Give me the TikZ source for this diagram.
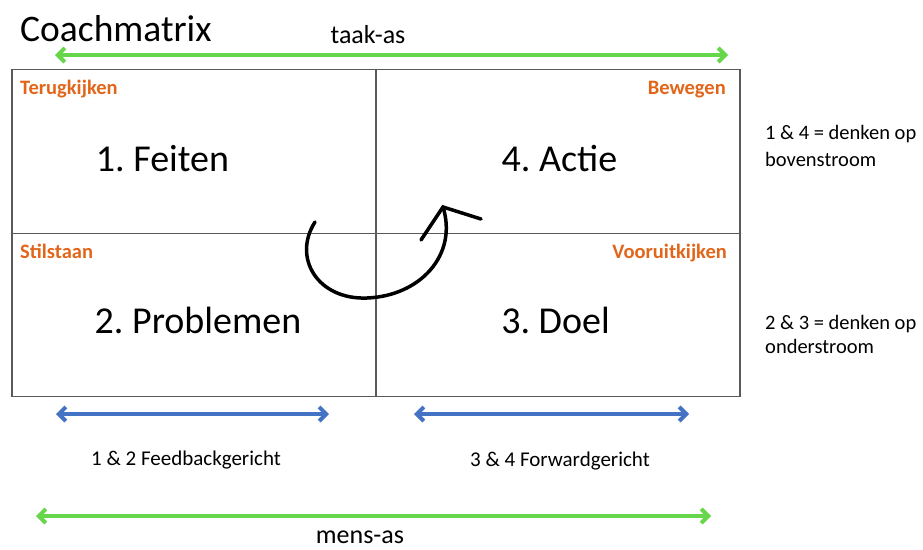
\documentclass[tikz,border=0pt]{standalone}
\usepackage{fontspec}
\setmainfont{Carlito}
\usetikzlibrary{arrows.meta}
\definecolor{lgreen}{HTML}{66D64A}
\definecolor{lblue}{HTML}{4472C4}
\definecolor{lorange}{HTML}{E2661A}
\definecolor{gridgray}{HTML}{5A5A5A}
\frenchspacing
\begin{document}
\begin{tikzpicture}[x=1pt,y=-1pt,
  cell/.style={draw=gridgray,line width=1.2pt,minimum width=364pt,minimum height=163.5pt,inner sep=0pt,outer sep=0pt},
  big/.style={font=\fontsize{38}{45}\selectfont,anchor=base,inner sep=0pt},
  axislbl/.style={font=\fontsize{26}{31}\selectfont,anchor=base,inner sep=0pt},
  tag/.style={font=\fontsize{20.5}{24}\selectfont\bfseries,text=lorange,inner sep=0pt},
  side/.style={font=\fontsize{20.5}{25}\selectfont,anchor=base west,inner sep=0pt},
  small/.style={font=\fontsize{21}{25}\selectfont,anchor=base,inner sep=0pt},
  greenarrow/.style={draw=lgreen,line width=4pt,{Straight Barb[length=7pt,width=14pt]}-{Straight Barb[length=7pt,width=14pt]}},
  bluearrow/.style={draw=lblue,line width=4pt,{Straight Barb[length=7pt,width=14pt]}-{Straight Barb[length=7pt,width=14pt]}},
  cyclearrow/.style={draw=black,line width=3.5pt,line cap=round}
]
\useasboundingbox (0,0) rectangle (923,549);

% grid cells
\node[cell] (q1) at (194,151.5) {};
\node[cell] (q4) at (558,151.5) {};
\node[cell] (q2) at (194,315) {};
\node[cell] (q3) at (558,315) {};

% title and axis labels
\node[font=\fontsize{37.5}{44}\selectfont,anchor=base west,inner sep=0pt] (title) at (20,41) {Coachmatrix};
\node[axislbl] (taak) at (368,43) {taak-as};
\node[axislbl] (mens) at (360,543) {mens-as};

% quadrant texts
\node[big] (feiten) at (162.5,171) {1. Feiten};
\node[big] (actie) at (559.5,171) {4. Actie};
\node[big] (problemen) at (198,333) {2. Problemen};
\node[big] (doel) at (555.5,333) {3. Doel};

% orange tags
\node[tag,anchor=base west] (terug) at (20,94) {Terugkijken};
\node[tag,anchor=base east] (bewegen) at (726,94) {Bewegen};
\node[tag,anchor=base west] (stil) at (20,258) {Stilstaan};
\node[tag,anchor=base east] (vooruit) at (727,258) {Vooruitkijken};

% side notes
\node[side] (s1a) at (765,139) {1 \& 4 = denken op};
\node[side] (s1b) at (765,166) {bovenstroom};
\node[side] (s2a) at (765,329) {2 \& 3 = denken op};
\node[side] (s2b) at (765,353) {onderstroom};

% bottom labels
\node[small] (fb) at (186,465) {1 \& 2 Feedbackgericht};
\node[small] (fw) at (560,466) {3 \& 4 Forwardgericht};

% arrow end points
\coordinate (tl) at (55,55);
\coordinate (tr) at (728,55);
\coordinate (bl1) at (56,414);
\coordinate (br1) at (329,414);
\coordinate (bl2) at (414,414);
\coordinate (br2) at (689,414);
\coordinate (gl) at (36,516);
\coordinate (gr) at (711,516);

\draw[greenarrow] (tl) -- (tr);
\draw[bluearrow] (bl1) -- (br1);
\draw[bluearrow] (bl2) -- (br2);
\draw[greenarrow] (gl) -- (gr);

% cycle arrow
\coordinate (cstart) at (315,222);
\coordinate (cbottom) at (367,298);
\coordinate (ctip) at (443,207);
\coordinate (cheadl) at (421,240);
\coordinate (cheadr) at (481,219);
\draw[cyclearrow] (cstart) .. controls (292,258) and (318,300) .. (cbottom)
  .. controls (420,296) and (458,255) .. (ctip);
\draw[cyclearrow,line join=miter] (cheadl) -- (ctip) -- (cheadr);
\end{tikzpicture}
\end{document}
